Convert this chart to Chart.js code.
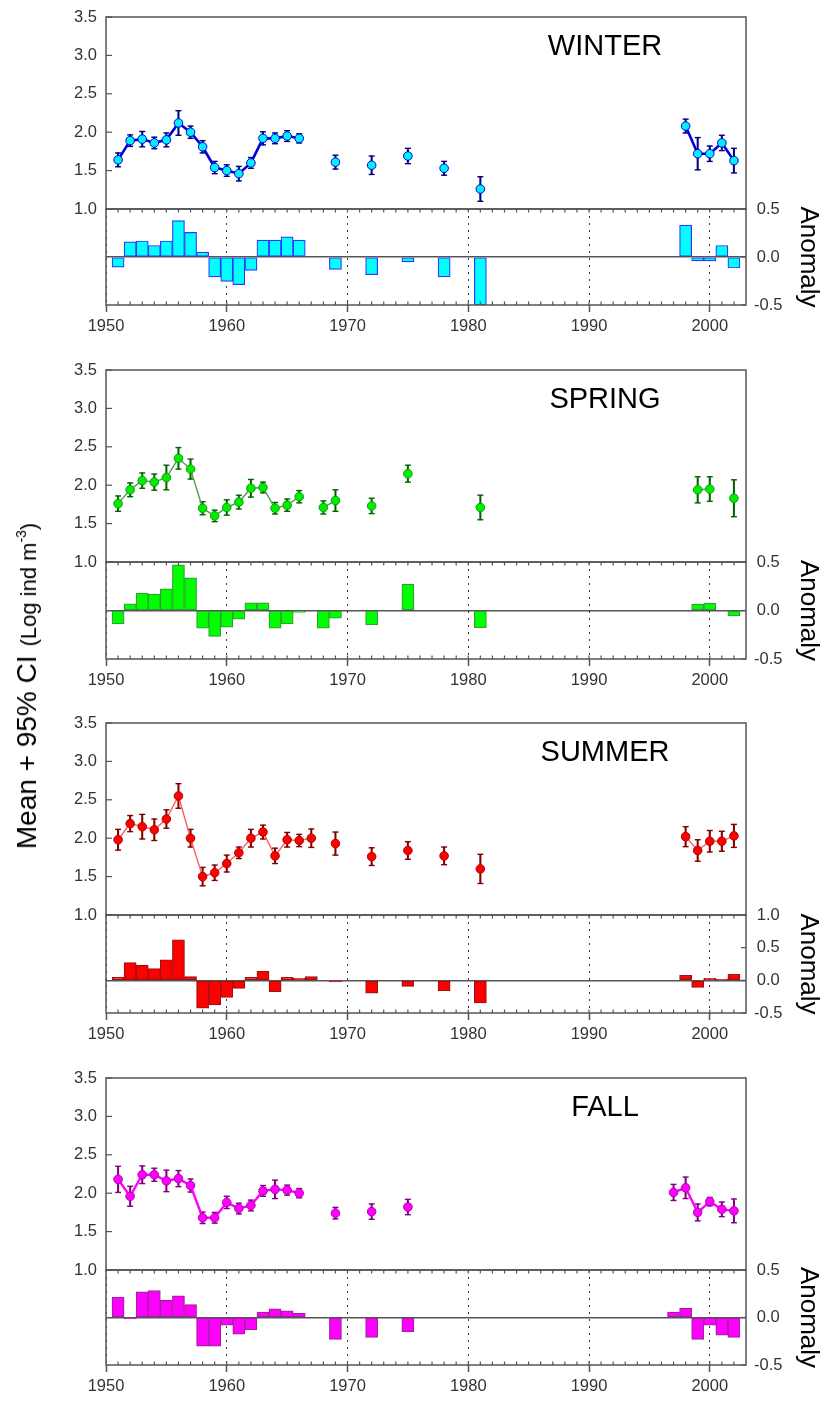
<!DOCTYPE html>
<html><head><meta charset="utf-8">
<script src="https://cdn.jsdelivr.net/npm/chart.js@4.4.0/dist/chart.umd.min.js"></script>
<style>
html,body{margin:0;padding:0;background:#fff;}
#wrap{position:relative;width:828px;height:1405px;overflow:hidden;font-family:"Liberation Sans",Arial,sans-serif;}
canvas{position:absolute;left:0;}
.ttl{position:absolute;font-size:29px;color:#000;transform:translate(-50%,-50%);white-space:nowrap;line-height:1;}
#ylab{position:absolute;left:27px;top:686px;transform:translate(-50%,-50%) rotate(-90deg);white-space:nowrap;color:#000;line-height:1;}
#ylab sup{font-size:14px;vertical-align:10px;line-height:0;}
</style></head>
<body><div id="wrap"></div>
<script>
// ---------- data ----------
const xMin = 1950, xMax = 2003;
const xTicks = [1950, 1960, 1970, 1980, 1990, 2000];
const meanTicks = [1.0, 1.5, 2.0, 2.5, 3.0, 3.5];
const anomTicks = [-0.5, 0.0, 0.5];
const anomTicksSummer = [-0.5, 0.0, 0.5, 1.0];

const winterYears = [1951,1952,1953,1954,1955,1956,1957,1958,1959,1960,1961,1962,1963,1964,1965,1966,1969,1972,1975,1978,1981,1998,1999,2000,2001,2002];
const winterMean = [1.64,1.89,1.91,1.86,1.90,2.12,2.00,1.81,1.54,1.50,1.46,1.60,1.92,1.92,1.95,1.92,1.61,1.57,1.69,1.53,1.26,2.08,1.72,1.72,1.86,1.63];
const winterCI = [0.09,0.075,0.10,0.075,0.09,0.16,0.08,0.08,0.08,0.075,0.095,0.07,0.085,0.07,0.07,0.06,0.09,0.12,0.10,0.09,0.16,0.09,0.21,0.10,0.10,0.16];
const winterAnomaly = [-0.105,0.157,0.167,0.12,0.167,0.38,0.256,0.052,-0.208,-0.254,-0.289,-0.14,0.177,0.177,0.21,0.177,-0.129,-0.184,-0.052,-0.208,-0.5,0.333,-0.04,-0.04,0.12,-0.115];

const springYears = [1951,1952,1953,1954,1955,1956,1957,1958,1959,1960,1961,1962,1963,1964,1965,1966,1968,1969,1972,1975,1981,1999,2000,2002];
const springMean = [1.76,1.94,2.06,2.04,2.10,2.35,2.21,1.70,1.60,1.71,1.78,1.96,1.97,1.70,1.74,1.85,1.71,1.80,1.73,2.15,1.71,1.94,1.95,1.83];
const springCI = [0.10,0.09,0.10,0.105,0.16,0.14,0.13,0.085,0.075,0.10,0.09,0.115,0.07,0.075,0.08,0.08,0.085,0.14,0.10,0.11,0.16,0.17,0.16,0.24];
const springAnomaly = [-0.137,0.069,0.18,0.169,0.223,0.47,0.336,-0.181,-0.267,-0.171,-0.089,0.079,0.079,-0.181,-0.137,-0.02,-0.181,-0.078,-0.147,0.27,-0.178,0.065,0.076,-0.055];

const summerYears = [1951,1952,1953,1954,1955,1956,1957,1958,1959,1960,1961,1962,1963,1964,1965,1966,1967,1969,1972,1975,1978,1981,1998,1999,2000,2001,2002];
const summerMean = [1.98,2.19,2.15,2.11,2.25,2.55,2.00,1.50,1.55,1.67,1.81,2.00,2.08,1.77,1.98,1.97,2.00,1.93,1.76,1.84,1.77,1.60,2.02,1.84,1.96,1.96,2.03];
const summerCI = [0.135,0.105,0.16,0.14,0.12,0.16,0.115,0.12,0.10,0.11,0.075,0.115,0.09,0.10,0.095,0.08,0.12,0.15,0.115,0.115,0.115,0.19,0.13,0.14,0.14,0.13,0.15];
const summerAnomaly = [0.046,0.27,0.232,0.18,0.315,0.62,0.057,-0.427,-0.376,-0.263,-0.124,0.046,0.139,-0.175,0.046,0.031,0.057,-0.026,-0.195,-0.093,-0.16,-0.345,0.077,-0.108,0.031,0.015,0.093];

const fallYears = [1951,1952,1953,1954,1955,1956,1957,1958,1959,1960,1961,1962,1963,1964,1965,1966,1969,1972,1975,1997,1998,1999,2000,2001,2002];
const fallMean = [2.18,1.96,2.24,2.24,2.16,2.19,2.10,1.68,1.68,1.88,1.80,1.84,2.03,2.05,2.04,2.00,1.74,1.76,1.82,2.01,2.07,1.75,1.89,1.79,1.77];
const fallCI = [0.17,0.13,0.115,0.085,0.14,0.105,0.085,0.075,0.07,0.08,0.07,0.07,0.07,0.12,0.065,0.06,0.075,0.10,0.10,0.105,0.14,0.11,0.055,0.095,0.155];
const fallAnomaly = [0.213,-0.014,0.27,0.283,0.18,0.227,0.136,-0.301,-0.301,-0.08,-0.175,-0.129,0.056,0.091,0.07,0.045,-0.231,-0.21,-0.15,0.056,0.098,-0.231,-0.08,-0.186,-0.21];

// ---------- layout / style ----------
const FONT = "'Liberation Sans', Arial, sans-serif";
const panels = [
  {name:'WINTER', years:winterYears, mean:winterMean, ci:winterCI, anom:winterAnomaly, anomMax:0.5, aTicks:anomTicks,
   top:17, anomH:96, line:'#0000dd', lw:2.6, fill:'#00f0ff', pb:'#0000cc', err:'#000080', barFill:'#00ffff', barBorder:'#3333ff'},
  {name:'SPRING', years:springYears, mean:springMean, ci:springCI, anom:springAnomaly, anomMax:0.5, aTicks:anomTicks,
   top:370, anomH:97, line:'#4a9e4a', lw:1.4, fill:'#00ee00', pb:'#109910', err:'#006400', barFill:'#00ff00', barBorder:'#30a030'},
  {name:'SUMMER', years:summerYears, mean:summerMean, ci:summerCI, anom:summerAnomaly, anomMax:1.0, aTicks:anomTicksSummer,
   top:723, anomH:98, line:'#ff6060', lw:1.4, fill:'#ff0000', pb:'#b00000', err:'#800000', barFill:'#ff0000', barBorder:'#a01010'},
  {name:'FALL', years:fallYears, mean:fallMean, ci:fallCI, anom:fallAnomaly, anomMax:0.5, aTicks:anomTicks,
   top:1078, anomH:95, line:'#ff00ff', lw:2.4, fill:'#ff00ff', pb:'#b000b0', err:'#800080', barFill:'#ff00ff', barBorder:'#a020a0'}
];
const UPPER_H = 192, PAD = 26, XAXIS_H = 34;

const framePlugin = {
  id: 'frame',
  afterDraw(chart, args, opts) {
    const {ctx, chartArea: a} = chart;
    const ln = (x1,y1,x2,y2) => { ctx.beginPath(); ctx.moveTo(x1,y1); ctx.lineTo(x2,y2); ctx.stroke(); };
    ctx.save();
    ctx.strokeStyle = '#555'; ctx.lineWidth = 1.5;
    ctx.strokeRect(a.left, a.top, a.right - a.left, a.bottom - a.top);
    ctx.lineWidth = 1.2;
    const y = chart.scales.y;
    if (opts.kind === 'upper') {
      y.ticks.forEach(t => { const py = y.getPixelForValue(t.value); ln(a.left, py, a.left + 6, py); });
    } else {
      const x = chart.scales.x;
      for (let yr = xMin + 1; yr < xMax; yr++) {
        const px = x.getPixelForValue(yr);
        ln(px, a.top, px, a.top + 3.5);
        ln(px, a.bottom, px, a.bottom - 3.5);
      }
      y.ticks.forEach(t => { const py = y.getPixelForValue(t.value); ln(a.right, py, a.right - 5, py); });
    }
    ctx.restore();
  }
};

const wrap = document.getElementById('wrap');
function mkCanvas(top, h) {
  const c = document.createElement('canvas');
  c.width = 828; c.height = h; c.style.top = top + 'px';
  c.style.width = '828px'; c.style.height = h + 'px';
  wrap.appendChild(c);
  return c;
}

panels.forEach(p => {
  // upper chart: mean + 95% CI
  const lineData = [];
  p.years.forEach((yr, i) => {
    if (i > 0 && yr - p.years[i-1] > 1) lineData.push({x: yr - 1, y: null});
    lineData.push({x: yr, y: p.mean[i]});
  });
  const errData = p.years.map((yr, i) => ({x: yr, y: [p.mean[i] - p.ci[i], p.mean[i] + p.ci[i]]}));
  const capHi = p.years.map((yr, i) => ({x: yr, y: p.mean[i] + p.ci[i]}));
  const capLo = p.years.map((yr, i) => ({x: yr, y: p.mean[i] - p.ci[i]}));

  const cu = mkCanvas(p.top - PAD, UPPER_H + 2 * PAD);
  new Chart(cu, {
    type: 'line',
    data: {datasets: [
      {type:'line', data: lineData, borderColor: p.line, borderWidth: p.lw, spanGaps: false,
       pointRadius: 4.3, pointBackgroundColor: p.fill, pointBorderColor: p.pb, pointBorderWidth: 1, order: 0},
      {type:'bar', data: errData, backgroundColor: p.err, borderWidth: 0, barThickness: 1.4, order: 3},
      {type:'line', data: capHi, showLine: false, pointStyle: 'line', pointRadius: 3,
       pointBorderColor: p.err, pointBorderWidth: 1.4, order: 2},
      {type:'line', data: capLo, showLine: false, pointStyle: 'line', pointRadius: 3,
       pointBorderColor: p.err, pointBorderWidth: 1.4, order: 2}
    ]},
    options: {
      responsive: false, animation: false, events: [],
      layout: {padding: {top: PAD, right: 82, bottom: PAD, left: 0}},
      plugins: {legend: {display: false}, tooltip: {enabled: false}, frame: {kind: 'upper'}},
      scales: {
        x: {type: 'linear', min: xMin, max: xMax, display: false, offset: false},
        y: {type: 'linear', position: 'left', min: 1.0, max: 3.5,
            afterFit: s => { s.width = 106; },
            afterBuildTicks: s => { s.ticks = meanTicks.map(v => ({value: v})); },
            ticks: {callback: v => Number(v).toFixed(1), font: {family: FONT, size: 16.5}, color: '#333', padding: 9},
            grid: {display: false, drawTicks: false}, border: {display: false}}
      }
    },
    plugins: [framePlugin]
  });

  // lower chart: anomaly bars
  const barData = p.years.map((yr, i) => ({x: yr, y: p.anom[i]}));
  const cl = mkCanvas(p.top + UPPER_H - PAD, PAD + p.anomH + XAXIS_H);
  new Chart(cl, {
    type: 'bar',
    data: {datasets: [
      {type:'bar', data: barData, backgroundColor: p.barFill, borderColor: p.barBorder, borderWidth: 1.2,
       borderSkipped: false, barPercentage: 1, categoryPercentage: 1}
    ]},
    options: {
      responsive: false, animation: false, events: [],
      layout: {padding: {top: PAD, right: 0, bottom: 0, left: 106}},
      plugins: {legend: {display: false}, tooltip: {enabled: false}, frame: {kind: 'lower'}},
      scales: {
        x: {type: 'linear', min: xMin, max: xMax, position: 'bottom', offset: false,
            afterFit: s => { s.height = XAXIS_H; },
            afterBuildTicks: s => { s.ticks = xTicks.map(v => ({value: v})); },
            ticks: {callback: v => String(v), font: {family: FONT, size: 16.5}, color: '#333', padding: 5,
                    maxRotation: 0, autoSkip: false},
            grid: {color: '#333', lineWidth: 1, drawTicks: true, tickLength: 7,
                   tickColor: '#555', tickWidth: 1.5, tickBorderDash: [], offset: false},
            border: {display: false, dash: [2, 5]}},
        y: {type: 'linear', position: 'right', min: -0.5, max: p.anomMax,
            afterFit: s => { s.width = 82; },
            afterBuildTicks: s => { s.ticks = p.aTicks.map(v => ({value: v})); },
            ticks: {callback: v => Number(v).toFixed(1), font: {family: FONT, size: 16.5}, color: '#333',
                    padding: 8, crossAlign: 'center'},
            grid: {drawTicks: false, lineWidth: 1.5,
                   color: c => (c.tick && Math.abs(c.tick.value) < 1e-9) ? '#555' : 'rgba(0,0,0,0)'},
            border: {display: false},
            title: {display: true, text: 'Anomaly', color: '#000', font: {family: FONT, size: 26},
                    padding: {top: 4, bottom: 0}}}
      }
    },
    plugins: [framePlugin]
  });

  // season title
  const t = document.createElement('div');
  t.className = 'ttl'; t.textContent = p.name;
  t.style.left = '605px'; t.style.top = (p.top + 28) + 'px';
  wrap.appendChild(t);
});

const yl = document.createElement('div');
yl.id = 'ylab';
yl.innerHTML = '<span style="font-size:28px">Mean + 95% CI</span>&nbsp;&nbsp;<span style="font-size:22px">(Log ind m<sup>-3</sup>)</span>';
wrap.appendChild(yl);
</script>
</body></html>
